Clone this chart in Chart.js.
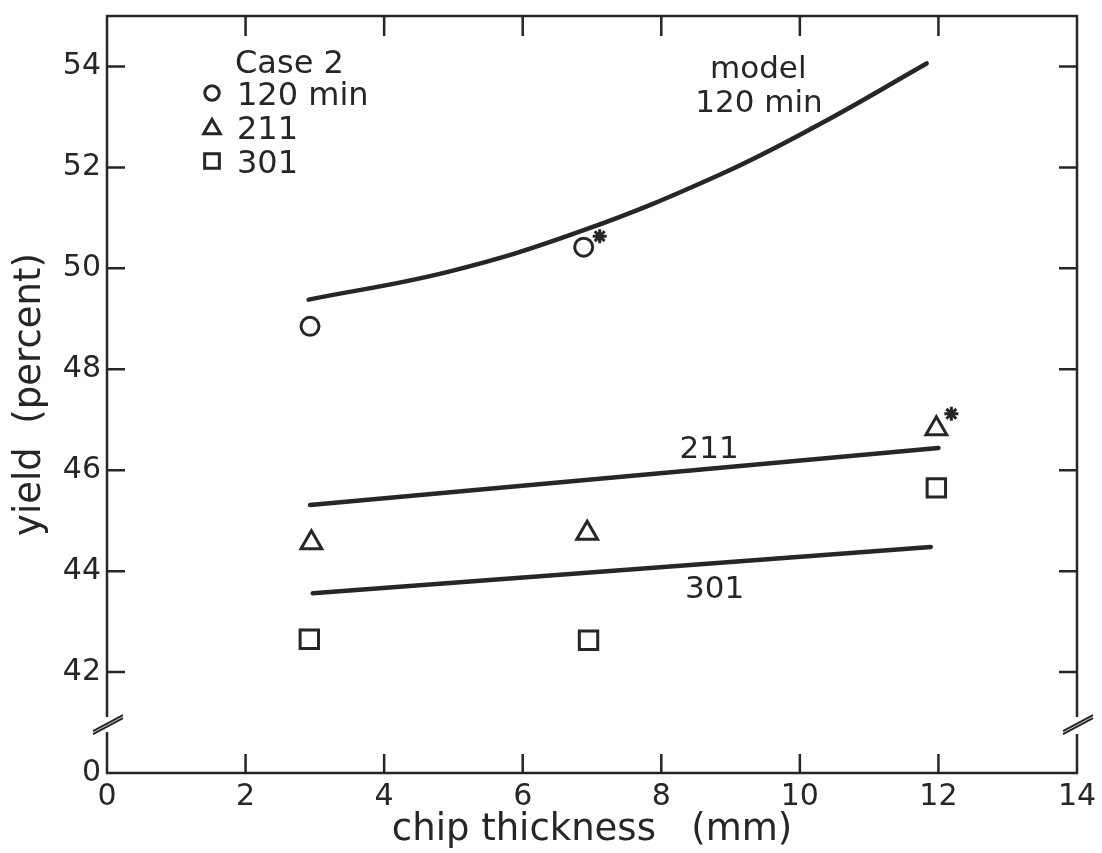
<!DOCTYPE html>
<html>
<head>
<meta charset="utf-8">
<script src="https://cdn.jsdelivr.net/npm/chart.js@4.4.1/dist/chart.umd.min.js"></script>
<style>
html, body { margin: 0; padding: 0; background: #fff; }
#wrap { width: 1102px; height: 853px; position: relative; }
</style>
</head>
<body>
<div id="wrap"><canvas id="yieldChart"></canvas></div>
<script>
// measured points, Case 2
var circleX = [2.93, 6.88];
var circleY = [48.85, 50.42];
var triangleX = [2.95, 6.93, 11.97];
var triangleY = [44.56, 44.75, 46.82];
var squareX = [2.92, 6.95, 11.97];
var squareY = [42.65, 42.63, 45.65];

// model curves
var model120X = [2.91, 4.95, 6.87, 8.85, 10.29, 11.83];
var model120Y = [49.38, 49.94, 50.75, 51.86, 52.86, 54.06];
var model211X = [2.93, 12.0];
var model211Y = [45.31, 46.44];
var model301X = [2.97, 11.89];
var model301Y = [43.56, 44.48];

var xTicks = [0, 2, 4, 6, 8, 10, 12, 14];
var yTicks = [40, 42, 44, 46, 48, 50, 52, 54];
var yTickLabels = ['0', '42', '44', '46', '48', '50', '52', '54'];

var ink = '#262626';
var font = 'DejaVu Sans';

function pts(xs, ys) {
    return xs.map(function(x, i) { return { x: x, y: ys[i] }; });
}

var annotations = [
    { text: 'model', x: 9.4, y: 53.78 },
    { text: '120 min', x: 9.41, y: 53.09 },
    { text: '211', x: 8.69, y: 46.24 },
    { text: '301', x: 8.77, y: 43.46 }
];

var framePlugin = {
    id: 'frame',
    afterDraw: function(chart) {
        var ctx = chart.ctx;
        var a = chart.chartArea;
        var xs = chart.scales.x, ys = chart.scales.y;
        var yb = ys.getPixelForValue(40.95);
        ctx.save();
        ctx.strokeStyle = ink;
        ctx.lineWidth = 2.5;
        ctx.lineCap = 'butt';
        ctx.beginPath();
        ctx.moveTo(a.left, yb - 8); ctx.lineTo(a.left, a.top); ctx.lineTo(a.right, a.top); ctx.lineTo(a.right, yb - 8);
        ctx.moveTo(a.left, yb + 7); ctx.lineTo(a.left, a.bottom); ctx.lineTo(a.right, a.bottom); ctx.lineTo(a.right, yb + 9);
        // inward ticks
        xTicks.slice(1, -1).forEach(function(v) {
            var px = xs.getPixelForValue(v);
            ctx.moveTo(px, a.bottom); ctx.lineTo(px, a.bottom - 19);
            ctx.moveTo(px, a.top); ctx.lineTo(px, a.top + 20);
        });
        yTicks.slice(1).forEach(function(v) {
            var py = ys.getPixelForValue(v);
            ctx.moveTo(a.left, py); ctx.lineTo(a.left + 18, py);
            ctx.moveTo(a.right, py); ctx.lineTo(a.right - 18, py);
        });
        ctx.stroke();
        // axis break marks
        ctx.lineWidth = 2;
        ctx.beginPath();
        [a.left, a.right].forEach(function(x0) {
            ctx.moveTo(x0 - 14, yb + 9); ctx.lineTo(x0 + 16, yb - 7);
            ctx.moveTo(x0 - 14, yb + 6); ctx.lineTo(x0 + 16, yb - 10);
        });
        ctx.stroke();

        // asterisks next to two points
        var stars = [[1, 1, 16, -11], [2, 2, 15, -15]];
        ctx.lineWidth = 3;
        stars.forEach(function(s) {
            var el = chart.getDatasetMeta(s[0]).data[s[1]];
            var cx = el.x + s[2], cy = el.y + s[3];
            ctx.beginPath();
            for (var k = 0; k < 4; k++) {
                var ang = k * Math.PI / 4;
                ctx.moveTo(cx - 7 * Math.cos(ang), cy - 7 * Math.sin(ang));
                ctx.lineTo(cx + 7 * Math.cos(ang), cy + 7 * Math.sin(ang));
            }
            ctx.stroke();
        });

        // legend
        ctx.font = '32px "' + font + '"';
        ctx.textAlign = 'left';
        ctx.textBaseline = 'alphabetic';
        ctx.fillStyle = ink;
        ctx.fillText('Case 2', a.left + 128, a.top + 57);
        var items = [
            { ds: 1, label: '120 min', sy: 77, ty: 89 },
            { ds: 2, label: '211', sy: 113, ty: 123 },
            { ds: 3, label: '301', sy: 145, ty: 157 }
        ];
        items.forEach(function(it) {
            var o = chart.data.datasets[it.ds];
            ctx.strokeStyle = ink;
            ctx.fillStyle = 'rgba(0,0,0,0)';
            ctx.lineWidth = 3;
            Chart.helpers.drawPoint(ctx, {
                pointStyle: o.pointStyle, radius: o.pointRadius * 0.8, borderWidth: 3, rotation: 0
            }, a.left + 105, a.top + it.sy);
            ctx.fillStyle = ink;
            ctx.fillText(it.label, a.left + 130, a.top + it.ty);
        });

        // curve labels
        ctx.font = '31px "' + font + '"';
        ctx.textAlign = 'center';
        ctx.fillStyle = ink;
        annotations.forEach(function(t) {
            ctx.fillText(t.text, xs.getPixelForValue(t.x), ys.getPixelForValue(t.y));
        });
        ctx.restore();
    }
};

var lineStyle = {
    showLine: true, pointRadius: 0, borderColor: ink, borderWidth: 4.5,
    borderCapStyle: 'round', fill: false
};
var markStyle = {
    borderColor: ink, backgroundColor: 'rgba(0,0,0,0)', borderWidth: 3, showLine: false
};

var yieldChart = new Chart(document.getElementById('yieldChart'), {
    type: 'scatter',
    data: {
        datasets: [
            Object.assign({ label: 'model 120 min', data: pts(model120X, model120Y), tension: 0.4 }, lineStyle),
            Object.assign({ label: '120 min', data: pts(circleX, circleY), pointStyle: 'circle', pointRadius: 9 }, markStyle),
            Object.assign({ label: '211', data: pts(triangleX, triangleY), pointStyle: 'triangle', pointRadius: 12 }, markStyle),
            Object.assign({ label: '301', data: pts(squareX, squareY), pointStyle: 'rect', pointRadius: 13 }, markStyle),
            Object.assign({ label: 'model 211', data: pts(model211X, model211Y) }, lineStyle),
            Object.assign({ label: 'model 301', data: pts(model301X, model301Y) }, lineStyle)
        ]
    },
    options: {
        responsive: true,
        maintainAspectRatio: false,
        animation: false,
        layout: { padding: { top: 15, right: 25, left: 0, bottom: 0 } },
        plugins: { legend: { display: false }, tooltip: { enabled: false } },
        scales: {
            x: {
                type: 'linear', min: 0, max: 14,
                afterBuildTicks: function(s) { s.ticks = xTicks.map(function(v) { return { value: v }; }); },
                afterFit: function(s) { s.height = 80; s.paddingLeft = 0; s.paddingRight = 0; },
                grid: { display: false, drawTicks: false },
                border: { display: false },
                ticks: { color: ink, padding: 6, font: { family: font, size: 30 } },
                title: {
                    display: true, text: 'chip thickness   (mm)', color: ink,
                    font: { family: font, size: 37 }, padding: { top: 0, bottom: 0 }
                }
            },
            y: {
                type: 'linear', min: 40, max: 55,
                afterBuildTicks: function(s) { s.ticks = yTicks.map(function(v) { return { value: v }; }); },
                afterFit: function(s) { s.width = 107; s.paddingTop = 0; s.paddingBottom = 0; },
                grid: { display: false, drawTicks: false },
                border: { display: false },
                ticks: {
                    color: ink, padding: 6, font: { family: font, size: 30 },
                    callback: function(v) { return yTickLabels[yTicks.indexOf(v)]; }
                },
                title: {
                    display: true, text: 'yield  (percent)', color: ink,
                    font: { family: font, size: 37 }, padding: { top: 8, bottom: 0 }
                }
            }
        }
    },
    plugins: [framePlugin]
});
</script>
</body>
</html>
